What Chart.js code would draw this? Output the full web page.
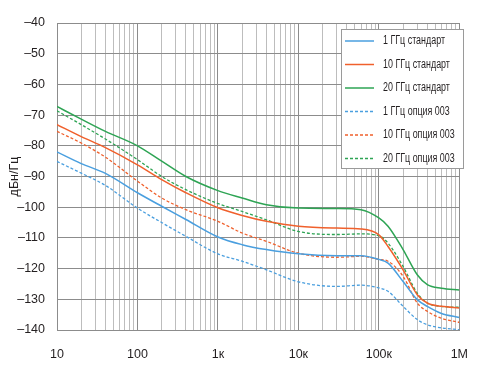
<!DOCTYPE html>
<html>
<head>
<meta charset="utf-8">
<script src="https://cdn.jsdelivr.net/npm/chart.js@4"></script>
<style>
  body { margin: 0; background: #fff; }
  #chart { display: block; }
</style>
</head>
<body>
<canvas id="chart" width="485" height="367"></canvas>
<script>
// Frequency offsets (Hz)
const freqs = [10, 20, 40, 100, 200, 400, 1000, 2000, 4000, 10000, 30000, 60000, 100000, 130000, 200000, 300000, 400000, 600000, 1000000];

// Phase noise, dBc/Hz
const std1G  = [-82, -85.8, -89, -95.3, -99.7, -104, -109.7, -112.2, -113.8, -115.2, -115.8, -115.8, -117, -118.2, -124.2, -130.1, -132.3, -134.6, -135.9];
const std10G = [-73.1, -77, -80.6, -86.2, -91, -95.3, -100.2, -102.7, -104.6, -106.2, -106.8, -107.1, -109, -112.8, -120.4, -128.5, -131.2, -132.3, -132.8];
const std20G = [-67.2, -71.3, -75.3, -80, -85, -90, -94.6, -97, -99.2, -100.3, -100.4, -100.8, -103.5, -106.2, -113.8, -122, -125.2, -126.4, -127];
const opt1G  = [-85.1, -88.9, -92.9, -100.3, -105, -109.5, -115.2, -117.6, -120.4, -124.3, -125.8, -125.4, -126.3, -127.4, -132.3, -136.6, -138.3, -139.3, -139.9];
const opt10G = [-75.3, -79.1, -83.7, -91.5, -97, -100.8, -104.6, -108.4, -111.1, -115, -116.3, -116, -117, -117.6, -122.5, -131.2, -133.9, -136.2, -137.5];
const opt20G = [-68.6, -73.1, -77.8, -84.5, -90, -94.3, -98.8, -101.4, -104.1, -107.9, -108.9, -108.7, -109.3, -111.7, -119.3, -128, -131.2, -132.3, -132.6];

const seriesNames = ['1 ГГц стандарт', '10 ГГц стандарт', '20 ГГц стандарт', '1 ГГц опция 003', '10 ГГц опция 003', '20 ГГц опция 003'];

// Axis labels
const decadeTicks = [10, 100, 1000, 10000, 100000, 1000000];
const decadeLabels = ['10', '100', '1к', '10к', '100к', '1М'];
const yTicks = [-40, -50, -60, -70, -80, -90, -100, -110, -120, -130, -140];
const yTitle = 'дБн/Гц';

document.addEventListener('DOMContentLoaded', () => {
    const FONT = '"Liberation Sans", Arial, sans-serif';
    Chart.defaults.font.family = FONT;
    Chart.defaults.color = '#231f20';

    const BLUE = '#4a9fdf';
    const ORANGE = '#f0602c';
    const GREEN = '#2ea454';

    const toPoints = arr => arr.map((v, i) => ({ x: freqs[i], y: v }));

    const mkSet = (idx, values, color, dashed) => ({
        label: seriesNames[idx],
        data: toPoints(values),
        borderColor: color,
        borderWidth: dashed ? 1.3 : 1.5,
        borderDash: dashed ? [3, 2] : [],
        pointRadius: 0,
        fill: false,
        cubicInterpolationMode: 'monotone'
    });

    // legend box drawn inside the plot, top right (condensed text like the original)
    const legendBox = {
        id: 'legendBox',
        afterDraw(chart) {
            const ctx = chart.ctx;
            const x = 341, y = 29, w = 122, h = 139;
            ctx.save();
            ctx.fillStyle = '#fff';
            ctx.fillRect(x, y, w, h);
            ctx.strokeStyle = '#9a9a9a';
            ctx.lineWidth = 1;
            ctx.strokeRect(x + 0.5, y + 0.5, w, h);
            ctx.font = '12.5px ' + FONT;
            ctx.textBaseline = 'middle';
            const squeeze = 62 / ctx.measureText(seriesNames[0]).width;
            chart.data.datasets.forEach((ds, i) => {
                const rowY = 41 + i * 23.5;
                ctx.strokeStyle = ds.borderColor;
                ctx.lineWidth = ds.borderWidth;
                ctx.setLineDash(ds.borderDash);
                ctx.beginPath();
                ctx.moveTo(345, rowY);
                ctx.lineTo(374, rowY);
                ctx.stroke();
                ctx.setLineDash([]);
                ctx.save();
                ctx.translate(383, rowY);
                ctx.scale(squeeze, 1);
                ctx.fillStyle = '#231f20';
                ctx.fillText(ds.label, 0, 0);
                ctx.restore();
            });
            ctx.restore();
        }
    };

    new Chart(document.getElementById('chart'), {
        type: 'line',
        data: {
            datasets: [
                mkSet(0, std1G, BLUE, false),
                mkSet(1, std10G, ORANGE, false),
                mkSet(2, std20G, GREEN, false),
                mkSet(3, opt1G, BLUE, true),
                mkSet(4, opt10G, ORANGE, true),
                mkSet(5, opt20G, GREEN, true)
            ]
        },
        options: {
            responsive: false,
            animation: false,
            layout: { padding: { top: 23, right: 14, left: 0, bottom: 0 } },
            plugins: {
                legend: { display: false },
                tooltip: { enabled: false }
            },
            scales: {
                x: {
                    type: 'logarithmic',
                    min: 10,
                    max: 1000000,
                    afterBuildTicks: scale => {
                        // 1..9 per decade so every minor gridline is drawn
                        const t = [];
                        for (let d = 10; d < 1000000; d *= 10) {
                            for (let k = 1; k < 10; k++) t.push({ value: k * d });
                        }
                        t.push({ value: 1000000 });
                        scale.ticks = t;
                    },
                    afterFit: scale => { scale.height = 37; },
                    grid: {
                        drawTicks: false,
                        color: ctx => decadeTicks.includes(ctx.tick && ctx.tick.value) ? '#8c8c8c' : '#bdbdbd',
                        lineWidth: 1
                    },
                    border: { color: '#8c8c8c' },
                    ticks: {
                        autoSkip: false,
                        maxRotation: 0,
                        padding: 17,
                        font: { size: 12.5 },
                        callback: value => {
                            const i = decadeTicks.indexOf(value);
                            return i >= 0 ? decadeLabels[i] : '';
                        }
                    }
                },
                y: {
                    min: -140,
                    max: -40,
                    afterBuildTicks: scale => {
                        scale.ticks = yTicks.map(v => ({ value: v }));
                    },
                    afterFit: scale => { scale.width = 57; },
                    grid: { drawTicks: false, color: '#8c8c8c', lineWidth: 1 },
                    border: { color: '#8c8c8c' },
                    ticks: {
                        padding: 12,
                        font: { size: 12.5 },
                        callback: v => (v < 0 ? '\u2013' + Math.abs(v) : String(v))
                    },
                    title: {
                        display: true,
                        text: yTitle,
                        font: { size: 12.5 },
                        padding: { top: 7, bottom: 0 }
                    }
                }
            }
        },
        plugins: [legendBox]
    });
});
</script>
</body>
</html>
